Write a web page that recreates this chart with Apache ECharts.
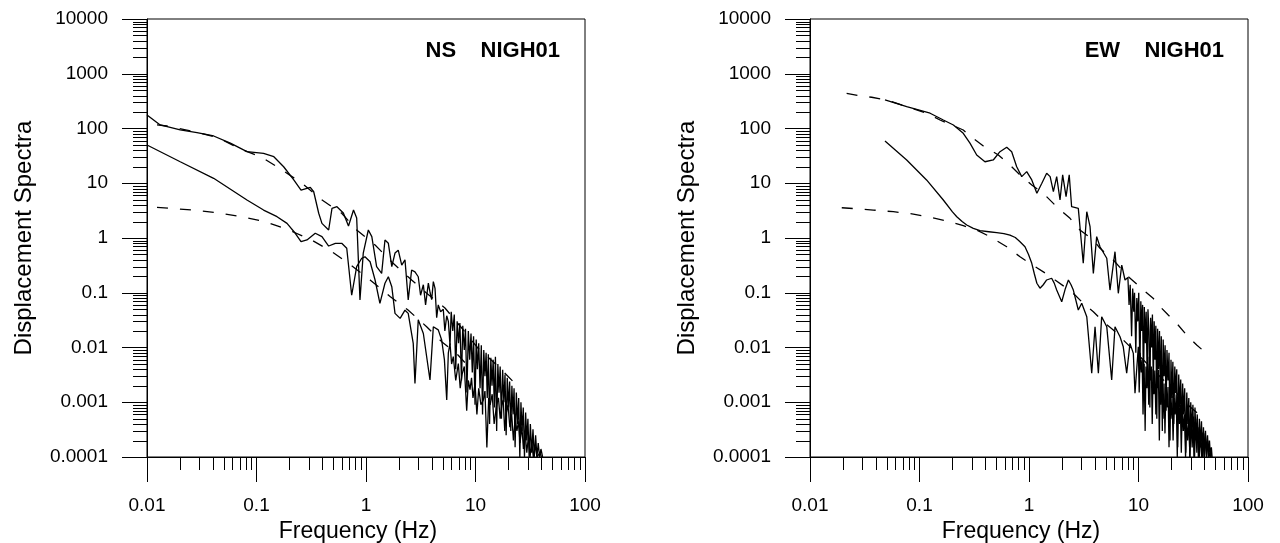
<!DOCTYPE html>
<html>
<head>
<meta charset="utf-8">
<script src="https://cdn.jsdelivr.net/npm/echarts@6/dist/echarts.min.js"></script>
<style>
html,body{margin:0;padding:0;background:#fff;overflow:hidden;}
#chart{width:1280px;height:543px;}
</style>
</head>
<body>
<div id="chart"></div>
<script>
// ---------- tick labels ----------
const xTickLabels = ['0.01','0.1','1','10','100'];
const yTickLabels = ['0.0001','0.001','0.01','0.1','1','10','100','1000','10000'];
const minorMultipliers = [2,3,4,5,6,7,8,9];
const panelTitles = ['NS    NIGH01', 'EW    NIGH01'];

// ---------- NS panel data [frequency Hz, displacement spectra] ----------
const nsUpperObs = [
[0.01,177],[0.0132,116],[0.0201,94],[0.0286,84],[0.0406,73],[0.0577,54],[0.0818,37.7],[0.116,35.2],[0.144,30.5],[0.177,20],[0.219,11.5],[0.255,7.5],[0.31,8.4],[0.333,7.0],[0.37,2.83],[0.396,1.85],[0.456,1.4],[0.489,3.48],[0.543,3.73],[0.621,2.86],[0.692,1.66],[0.769,3.24],[0.822,2.32],[0.881,0.074],[0.944,0.53],[1.05,1.4],[1.13,1.06],[1.25,0.3],[1.39,0.226],[1.49,0.92],[1.6,0.8],[1.72,0.3],[1.84,0.53],[1.97,0.6],[2.12,0.32],[2.27,0.4],[2.43,0.074],[2.61,0.26],[2.8,0.24],
[3.0,0.196],[3.15,0.09],[3.34,0.14],[3.5,0.06],[3.71,0.15],[3.85,0.1],[3.98,0.075],[4.12,0.16],[4.27,0.12],[4.42,0.035],[4.57,0.06],[4.8,0.045],[5.08,0.05],[5.25,0.02],[5.46,0.038],[5.65,0.03],
[5.85,0.011],[6.0,0.045],[6.2,0.02],[6.4,0.04],[6.6,0.004],[6.8,0.03],[7.0,0.012],[7.2,0.028],[7.45,0.0025],[7.65,0.025],[7.9,0.009],[8.1,0.022],[8.35,0.0015],[8.6,0.02],[8.85,0.006],[9.1,0.018],[9.35,0.0035],[9.6,0.016],[9.9,0.0009],[10.15,0.014],[10.4,0.004],[10.7,0.012],[11.0,0.0018],[11.3,0.011],[11.6,0.0006],[11.9,0.009],[12.2,0.003],[12.5,0.008],[12.8,0.0012],[13.1,0.0075],[13.45,0.0004],[13.8,0.0065],[14.15,0.002],[14.5,0.006],[14.85,0.0008],[15.2,0.0068],[15.6,0.0003],[16.0,0.005],[16.4,0.0015],[16.8,0.0045],[17.25,0.0005],[17.7,0.0039],[18.15,0.001],[18.6,0.0032],[19.05,0.00025],[19.5,0.0028],[20.0,0.0008],[20.5,0.0024],[21.0,0.0003],[21.5,0.002],[22.0,0.0006],[22.5,0.0018],[23.0,0.00015],[23.6,0.0015],[24.2,0.0004],[24.8,0.0012],[25.4,0.0001],[26.0,0.001],[26.6,0.0003],[27.3,0.0008],[28.0,0.0001],[28.7,0.00065],[29.4,0.0002],[30.1,0.0005],[30.9,0.0001],[31.7,0.0004],[32.6,0.00012],[33.5,0.00032],[34.4,0.0001],[35.4,0.00025],[36.4,0.0001],[37.4,0.00018],[38.5,0.0001],[39.6,0.00014],[41,0.0001]
];
const nsLowerObs = [
[0.01,50],[0.0201,24.7],[0.0406,12.3],[0.0818,4.94],[0.116,3.24],[0.154,2.45],[0.19,1.85],[0.226,1.22],[0.255,0.855],[0.289,0.92],[0.344,1.22],[0.396,1.06],[0.456,0.714],[0.525,0.8],[0.6,0.8],[0.667,0.649],[0.74,0.09],[0.822,0.299],[0.914,0.426],[0.979,0.455],[1.09,0.369],[1.21,0.171],[1.34,0.064],[1.49,0.149],[1.6,0.196],[1.72,0.129],[1.84,0.042],[2.05,0.034],[2.27,0.048],[2.43,0.042],[2.7,0.0119],[2.8,0.0022],[3.0,0.032],[3.34,0.018],[3.84,0.00255],[4.12,0.024],[4.57,0.021],
[4.91,0.0137],[5.2,0.006],[5.46,0.0011],[5.65,0.008],[5.85,0.0119],[6.05,0.005],[6.27,0.0068],[6.6,0.0025],[6.97,0.0051],[7.25,0.0018],[7.53,0.0032],[7.9,0.0045],[8.31,0.0007],[8.6,0.0025],[8.91,0.0017],[9.2,0.0028],[9.48,0.0012],[9.9,0.0022],[10.3,0.0006],[10.7,0.0018],[11.2,0.0009],[11.8,0.0011],[12.2,0.0016],[12.7,0.00015],[13.2,0.0012],[13.6,0.0009],[14.2,0.0014],[14.8,0.0004],[15.6,0.0009],[16.2,0.0012],[16.8,0.0005],[17.4,0.0009],[17.9,0.0011],[18.5,0.0003],[19.0,0.0006],[19.8,0.0009],[20.6,0.00035],[21.4,0.0006],[22.2,0.0002],[23.0,0.0005],[23.9,0.0003],[24.7,0.00045],[25.5,0.00018],[26.5,0.00036],[27.4,0.00014],[28.3,0.0003],[29.4,0.00012],[30.5,0.00025],[31.5,0.0001],[32.6,0.0002],[33.7,0.0001],[35,0.00016],[36.5,0.0001],[38.8,0.00012],[40,0.0001]
];
const nsUpperModel = [
[0.01234,116],[0.01523,111],[0.0269,87.5],[0.0436,69],[0.0692,43.5],[0.112,29.8],[0.171,17.5],[0.26,10],[0.388,5.1],[0.6,2.83],[0.822,1.4],[1.21,0.745],[1.77,0.345],[2.61,0.171],[3.58,0.0977],[5.26,0.0526],[7.48,0.0227],[10.5,0.0098],[15.6,0.00479],[24.6,0.00192]
];
const nsLowerModel = [
[0.01234,3.64],[0.0158,3.49],[0.0267,3.25],[0.0436,2.9],[0.0737,2.45],[0.12,1.99],[0.197,1.4],[0.31,0.946],[0.489,0.562],[0.745,0.308],[1.09,0.171],[1.67,0.0847],[2.42,0.0484],[3.58,0.024],[4.91,0.0128],[6.92,0.0073],[9.23,0.0039]
];

// ---------- EW panel data ----------
const ewUpperObs = [
[0.0484,332],[0.0764,250],[0.125,190],[0.165,143],[0.204,116],[0.251,81.7],[0.289,54],[0.333,32.8],[0.396,24.7],[0.472,26.6],[0.543,37.7],[0.626,45.4],[0.695,37.7],[0.772,20],[0.858,13.2],[0.953,16.3],[1.06,11.5],[1.18,6.55],[1.31,10],[1.45,15.2],[1.56,13.2],[1.67,7.0],[1.79,13.2],[1.92,4.94],[2.03,14.2],[2.18,5.68],[2.33,14.2],[2.45,3.73],[2.82,3.48],[3.13,0.345],[3.37,3.02],[3.61,1.61],[3.87,0.226],[4.15,1.06],[4.45,0.693],[5.13,0.426],[5.49,0.112],[6.1,0.562],[6.54,0.0977],[7.03,0.321],[7.53,0.171],
[8.0,0.19],[8.2,0.06],[8.4,0.14],[8.65,0.016],[8.85,0.12],[9.05,0.045],[9.2,0.1],[9.45,0.008],[9.65,0.08],[9.85,0.03],[10.05,0.1],[10.3,0.004],[10.5,0.07],[10.7,0.02],[10.9,0.06],[11.1,0.0015],[11.3,0.055],[11.55,0.012],[11.75,0.045],[12.0,0.003],[12.2,0.05],[12.45,0.02],[12.7,0.0008],[12.9,0.035],[13.15,0.01],[13.4,0.04],[13.65,0.002],[13.9,0.03],[14.15,0.006],[14.4,0.025],[14.7,0.0005],[14.95,0.022],[15.25,0.004],[15.55,0.02],[15.85,0.0012],[16.15,0.016],[16.5,0.0003],[16.8,0.014],[17.15,0.003],[17.5,0.011],[17.85,0.0007],[18.2,0.009],[18.6,0.0025],[19.0,0.008],[19.4,0.0002],[19.8,0.006],[20.2,0.0012],[20.6,0.0055],[21.0,0.0004],[21.45,0.0045],[21.9,0.0015],[22.35,0.004],[22.8,0.00015],[23.3,0.0032],[23.8,0.0008],[24.3,0.0026],[24.8,0.0003],[25.3,0.0022],[25.8,0.0006],[26.4,0.0018],[27.0,0.00012],[27.6,0.0015],[28.2,0.0004],[28.8,0.0012],[29.4,0.0001],[30.0,0.001],[30.7,0.0003],[31.4,0.0009],[32.1,0.0001],[32.8,0.0008],[33.6,0.0002],[34.4,0.0006],[35.2,0.0001],[36.0,0.0005],[36.8,0.00015],[37.6,0.00045],[38.4,0.0001],[39.2,0.00035],[40.0,0.0001],[40.9,0.0003],[41.8,0.0001],[42.7,0.00025],[43.6,0.0001],[44.5,0.0002],[45.4,0.0001],[46.3,0.00015],[47,0.0001]
];
const ewLowerObs = [
[0.0484,59],[0.0764,26.6],[0.116,11.5],[0.165,4.94],[0.2,3.0],[0.219,2.45],[0.245,2.0],[0.27,1.73],[0.31,1.5],[0.357,1.36],[0.43,1.3],[0.507,1.25],[0.59,1.2],[0.67,1.13],[0.75,1.02],[0.828,0.855],[0.919,0.693],[0.99,0.5],[1.06,0.345],[1.12,0.22],[1.18,0.149],[1.26,0.121],[1.35,0.14],[1.45,0.171],[1.61,0.184],[1.7,0.15],[1.79,0.112],[1.99,0.0686],[2.15,0.12],[2.29,0.171],[2.42,0.14],[2.54,0.112],[2.82,0.0484],[3.03,0.0641],[3.37,0.0365],[3.74,0.00338],[4.01,0.024],[4.3,0.00338],[4.61,0.0365],[5.13,0.024],[5.69,0.00255],[6.1,0.024],[6.78,0.0157],[7.26,0.0103],[7.8,0.00338],[8.36,0.0119],[8.97,0.0078],[9.29,0.00146],
[9.96,0.0103],[10.15,0.0015],[10.35,0.008],[10.6,0.0035],[10.8,0.006],[11.0,0.0006],[11.25,0.005],[11.5,0.0003],[11.7,0.0045],[11.95,0.0018],[12.15,0.0068],[12.4,0.0009],[12.6,0.005],[12.85,0.0025],[13.1,0.0045],[13.35,0.0004],[13.6,0.004],[13.85,0.0014],[14.1,0.0038],[14.4,0.0006],[14.65,0.0032],[14.9,0.0018],[15.2,0.0039],[15.5,0.0002],[15.8,0.003],[16.1,0.0009],[16.4,0.0026],[16.75,0.0005],[17.1,0.0022],[17.45,0.00027],[17.8,0.0019],[18.2,0.0008],[18.6,0.0019],[19.0,0.00015],[19.4,0.0015],[19.8,0.0005],[20.25,0.0013],[20.7,0.0002],[21.15,0.0012],[21.6,0.0006],[22.1,0.0014],[22.6,0.0001],[23.1,0.0015],[23.6,0.0004],[24.1,0.0009],[24.6,0.00012],[25.1,0.0008],[25.7,0.0003],[26.3,0.0006],[26.9,0.0001],[27.5,0.0005],[28.1,0.0002],[28.8,0.00045],[29.5,0.0001],[30.2,0.0005],[30.9,0.00015],[31.7,0.00055],[32.5,0.0001],[33.3,0.0005],[34.1,0.00012],[35.0,0.00035],[35.9,0.0001],[36.8,0.0003],[37.7,0.0001],[38.7,0.00028],[39.7,0.0001],[40.7,0.00027],[41.8,0.0001],[42.9,0.0002],[44.0,0.0001],[45.2,0.00012],[46.2,0.0001]
];
const ewUpperModel = [
[0.0216,440],[0.0286,393],[0.0366,372],[0.0502,332],[0.0764,250],[0.116,190],[0.154,143],[0.197,116],[0.251,94],[0.3,69],[0.383,47.9],[0.525,32.8],[0.647,23.1],[0.828,14.2],[1.06,9.3],[1.35,6.55],[1.79,3.73],[2.37,2.29],[2.92,1.4],[3.87,0.918],[4.45,0.649],[5.89,0.396],[8.07,0.196],[11.1,0.112],[13.6,0.0792],[16.3,0.052],[18.7,0.0393],[22.3,0.0277],[27.5,0.0169],[34,0.0111],[43.4,0.0073]
];
const ewLowerModel = [
[0.0195,3.57],[0.0286,3.39],[0.0378,3.24],[0.0577,3.02],[0.0878,2.74],[0.125,2.39],[0.177,2.05],[0.251,1.68],[0.333,1.4],[0.44,1.06],[0.626,0.693],[0.828,0.455],[1.02,0.345],[1.45,0.22],[1.73,0.171],[2.21,0.121],[2.63,0.091],[3.25,0.0597],[3.87,0.0451],[4.77,0.0296],[5.89,0.0209],[7.26,0.0137],[8.97,0.009],[11.1,0.0059],[14.7,0.00338],[18.1,0.00222],[23.9,0.00126],[29.5,0.00083],[37.8,0.000545]
];

// ---------- build chart ----------
const FONT = '"Liberation Sans", Arial, Helvetica, sans-serif';
const xMin = Number(xTickLabels[0]), xMax = Number(xTickLabels[xTickLabels.length-1]);
const yMin = Number(yTickLabels[0]), yMax = Number(yTickLabels[yTickLabels.length-1]);

function minorValues(labels){
  const out = [];
  for (let i = 0; i < labels.length - 1; i++) {
    const base = Number(labels[i]);
    minorMultipliers.forEach(m => out.push(parseFloat((base * m).toPrecision(6))));
  }
  return out;
}
const xMinor = minorValues(xTickLabels);
const yMinor = minorValues(yTickLabels);

const gridBase = {top:19, width:438, height:438, show:true, borderColor:'#000', borderWidth:1,
  backgroundColor:'transparent', containLabel:false, outerBoundsMode:'none'};
const grids = [
  Object.assign({left:147}, gridBase),
  Object.assign({left:810}, gridBase)
];

function makeX(i){
  return {
    type:'log', logBase:10, gridIndex:i, min:xMin, max:xMax, splitNumber:4,
    name:'Frequency (Hz)', nameLocation:'middle', nameGap:60,
    nameTextStyle:{fontFamily:FONT, fontSize:23, color:'#000', padding:[0,16,0,0]},
    axisLine:{show:true, onZero:false, lineStyle:{color:'#000', width:1}},
    axisTick:{show:true, inside:false, length:25, lineStyle:{color:'#000', width:1}},
    minorTick:{show:false},
    splitLine:{show:false},
    axisLabel:{show:true, margin:39, fontFamily:FONT, fontSize:19, color:'#000',
      showMinLabel:true, showMaxLabel:true,
      formatter: v => xTickLabels[Math.round(Math.log10(v)) - Math.round(Math.log10(xMin))]}
  };
}
function makeY(i){
  return {
    type:'log', logBase:10, gridIndex:i, min:yMin, max:yMax, splitNumber:8,
    name:'Displacement Spectra', nameLocation:'middle', nameGap:111, nameRotate:90,
    nameTextStyle:{fontFamily:FONT, fontSize:24, color:'#000'},
    axisLine:{show:true, onZero:false, lineStyle:{color:'#000', width:1}},
    axisTick:{show:true, inside:false, length:25, lineStyle:{color:'#000', width:1}},
    minorTick:{show:false},
    splitLine:{show:false},
    axisLabel:{show:true, margin:39, fontFamily:FONT, fontSize:19, color:'#000',
      showMinLabel:true, showMaxLabel:true,
      formatter: v => yTickLabels[Math.round(Math.log10(v)) - Math.round(Math.log10(yMin))]}
  };
}

function lineSeries(data, i, dashed){
  return {
    type:'line', xAxisIndex:i, yAxisIndex:i, data:data,
    showSymbol:false, symbol:'none', smooth:false, animation:false, silent:true,
    clip:true,
    lineStyle:{color:'#000', width:1.3, type: dashed ? [11,12] : 'solid'},
    z:3
  };
}

function minorTickSeries(i){
  const data = [];
  xMinor.forEach(v => data.push([v, yMin, 0]));
  yMinor.forEach(v => data.push([xMin, v, 1]));
  return {
    type:'custom', xAxisIndex:i, yAxisIndex:i, data:data, clip:false, silent:true, animation:false,
    encode:{x:0, y:1},
    renderItem: function(params, api){
      const p = api.coord([api.value(0), api.value(1)]);
      const flag = api.value(2);
      if (flag === 0) {
        const x = Math.round(p[0]) + 0.5;
        return {type:'line', shape:{x1:x, y1:p[1], x2:x, y2:p[1] + 13}, style:{stroke:'#000', lineWidth:1}};
      } else {
        const y = Math.round(p[1]) + 0.5;
        return {type:'line', shape:{x1:p[0] - 14, y1:y, x2:p[0], y2:y}, style:{stroke:'#000', lineWidth:1}};
      }
    },
    z:2
  };
}

const option = {
  animation:false,
  backgroundColor:'#fff',
  title:[
    {text:panelTitles[0], right:720, top:40, padding:0, textStyle:{fontFamily:FONT, fontSize:22, fontWeight:'bold', color:'#000'}},
    {text:panelTitles[1], right:56, top:40, padding:0, textStyle:{fontFamily:FONT, fontSize:22, fontWeight:'bold', color:'#000'}}
  ],
  grid:grids,
  xAxis:[makeX(0), makeX(1)],
  yAxis:[makeY(0), makeY(1)],
  series:[
    minorTickSeries(0), minorTickSeries(1),
    lineSeries(nsUpperObs, 0, false),
    lineSeries(nsLowerObs, 0, false),
    lineSeries(nsUpperModel, 0, true),
    lineSeries(nsLowerModel, 0, true),
    lineSeries(ewUpperObs, 1, false),
    lineSeries(ewLowerObs, 1, false),
    lineSeries(ewUpperModel, 1, true),
    lineSeries(ewLowerModel, 1, true)
  ]
};

const chart = echarts.init(document.getElementById('chart'), null, {renderer:'canvas'});
chart.setOption(option);
</script>
</body>
</html>
